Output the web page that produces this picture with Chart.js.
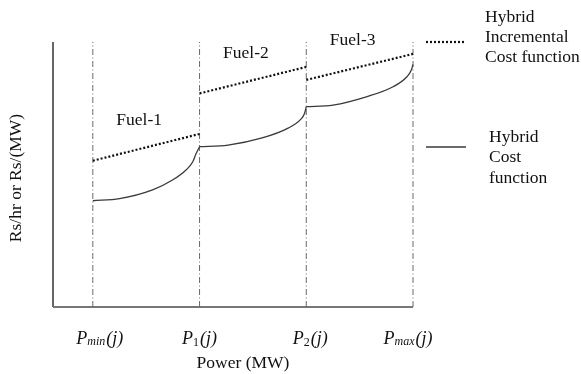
<!DOCTYPE html>
<html>
<head>
<meta charset="utf-8">
<script src="https://cdn.jsdelivr.net/npm/chart.js@4"></script>
<style>
  body { margin: 0; background: #fff; }
  canvas { display: block; }
</style>
</head>
<body>
<canvas id="hybridCostChart" width="581" height="374"></canvas>
<script>
// break points on the power axis: Pmin, P1, P2, Pmax
const powerBreaks = [1, 4, 7, 10];
const tickMain = ['P', 'P', 'P', 'P'];
const tickSub = ['min', '1', '2', 'max'];
const fuelLabels = ['Fuel-1', 'Fuel-2', 'Fuel-3'];

// incremental cost (straight, one per fuel)
const incStart = [55.2, 80.6, 85.7];
const incEnd = [65.3, 90.6, 95.5];

// cost function samples, one list per fuel
const costX1 = [1, 1.75, 2.68, 3.24, 3.62, 3.81, 3.9, 4];
const costY1 = [40.1, 40.9, 44.2, 47.9, 51.7, 54.8, 57.8, 60.5];
const costX2 = [4, 4.80, 5.76, 6.49, 6.85, 6.95, 7];
const costY2 = [60.5, 61.1, 63.8, 67.5, 70.9, 73.0, 75.6];
const costX3 = [7, 7.75, 8.71, 9.44, 9.83, 9.95, 10];
const costY3 = [75.6, 76.2, 79.4, 83.1, 86.9, 89.3, 91.5];

const legendInc = ['Hybrid', 'Incremental', 'Cost function'];
const legendCost = ['Hybrid', 'Cost', 'function'];
const xTitle = 'Power (MW)';
const yTitle = 'Rs/hr or Rs/(MW)';

const FONT = '"Liberation Serif", "Times New Roman", serif';
const DOT = [2, 2];

function pairs(xs, ys) {
    return xs.map((x, i) => ({ x: x, y: ys[i] }));
}

const datasets = [];

// vertical dash-dot lines
powerBreaks.forEach(p => {
    datasets.push({
        data: [{ x: p, y: 0 }, { x: p, y: 100 }],
        borderColor: '#6a6a6a',
        borderWidth: 1,
        borderDash: [6, 2.5, 1, 2.5],
        pointRadius: 0,
        order: 3
    });
});

// incremental cost lines
fuelLabels.forEach((f, i) => {
    datasets.push({
        label: f + ' incremental',
        data: [{ x: powerBreaks[i], y: incStart[i] }, { x: powerBreaks[i + 1], y: incEnd[i] }],
        borderColor: '#111',
        borderWidth: 2.2,
        borderDash: DOT,
        pointRadius: 0,
        order: 1
    });
});

// cost curves
[[costX1, costY1], [costX2, costY2], [costX3, costY3]].forEach((c, i) => {
    datasets.push({
        label: fuelLabels[i] + ' cost',
        data: pairs(c[0], c[1]),
        borderColor: '#3a3a3a',
        borderWidth: 1.3,
        cubicInterpolationMode: 'monotone',
        pointRadius: 0,
        order: 2
    });
});

// small shifts of the tick labels, as in the original figure
const tickNudge = [7, 0, 4, -5];

const decor = {
    id: 'decor',
    beforeDatasetsDraw(chart) {
        const { ctx } = chart;
        const xs = chart.scales.x, ys = chart.scales.y;
        const x0 = xs.getPixelForValue(xs.min);
        const x1 = xs.getPixelForValue(powerBreaks[powerBreaks.length - 1]);
        const yb = ys.getPixelForValue(0), yt = ys.getPixelForValue(100);
        ctx.save();
        // y axis
        ctx.strokeStyle = '#333';
        ctx.lineWidth = 1.5;
        ctx.beginPath();
        ctx.moveTo(x0, yt);
        ctx.lineTo(x0, yb);
        ctx.stroke();
        // x axis
        ctx.strokeStyle = '#777';
        ctx.lineWidth = 2;
        ctx.beginPath();
        ctx.moveTo(x0, yb);
        ctx.lineTo(x1, yb);
        ctx.stroke();
        ctx.restore();
    },
    afterDraw(chart) {
        const { ctx } = chart;
        const xs = chart.scales.x, ys = chart.scales.y;
        ctx.save();
        ctx.fillStyle = '#111';

        // tick labels P_min(j) ...
        powerBreaks.forEach((p, i) => {
            const big = 'italic 18px ' + FONT;
            const isNum = /^\d+$/.test(tickSub[i]);
            const small = (isNum ? '' : 'italic ') + '12px ' + FONT;
            ctx.font = big;
            const wMain = ctx.measureText(tickMain[i]).width;
            const wTail = ctx.measureText('(j)').width;
            ctx.font = small;
            const wSub = ctx.measureText(tickSub[i]).width;
            let x = xs.getPixelForValue(p) + tickNudge[i] - (wMain + wSub + wTail + 1) / 2;
            const base = 344;
            ctx.textAlign = 'left';
            ctx.textBaseline = 'alphabetic';
            ctx.font = big;
            ctx.fillText(tickMain[i], x, base);
            x += wMain;
            ctx.font = small;
            ctx.fillText(tickSub[i], x, base + (isNum ? 2 : 1));
            x += wSub + 1;
            ctx.font = big;
            ctx.fillText('(j)', x, base);
        });

        // axis titles
        ctx.font = '17.5px ' + FONT;
        ctx.textAlign = 'center';
        ctx.textBaseline = 'middle';
        ctx.fillText(xTitle, 243, 363);
        ctx.save();
        ctx.translate(16, 178);
        ctx.rotate(-Math.PI / 2);
        ctx.fillText(yTitle, 0, 0);
        ctx.restore();

        // fuel labels above each incremental segment
        fuelLabels.forEach((f, i) => {
            const xm = (xs.getPixelForValue(powerBreaks[i]) + xs.getPixelForValue(powerBreaks[i + 1])) / 2 - 7;
            const ym = ys.getPixelForValue((incStart[i] + incEnd[i]) / 2) - 27;
            ctx.fillText(f, xm, ym);
        });

        // legend
        ctx.textAlign = 'left';
        ctx.strokeStyle = '#111';
        ctx.lineWidth = 2.2;
        ctx.setLineDash(DOT);
        ctx.beginPath();
        ctx.moveTo(426, 42);
        ctx.lineTo(464, 42);
        ctx.stroke();
        ctx.setLineDash([]);
        ctx.strokeStyle = '#3a3a3a';
        ctx.lineWidth = 1.3;
        ctx.beginPath();
        ctx.moveTo(426, 147);
        ctx.lineTo(466, 147);
        ctx.stroke();
        legendInc.forEach((t, i) => ctx.fillText(t, 485, 17 + i * 20));
        legendCost.forEach((t, i) => ctx.fillText(t, 489, 137 + i * 20.5));

        ctx.restore();
    }
};

new Chart(document.getElementById('hybridCostChart'), {
    type: 'line',
    data: { datasets: datasets },
    options: {
        responsive: false,
        animation: false,
        devicePixelRatio: 1,
        layout: { padding: { left: 53, right: 168, top: 42, bottom: 67 } },
        scales: {
            x: { type: 'linear', min: -0.12, max: 10, display: false },
            y: { type: 'linear', min: 0, max: 100, display: false }
        },
        elements: { line: { fill: false } },
        datasets: { line: { clip: false } },
        plugins: {
            legend: { display: false },
            tooltip: { enabled: false }
        }
    },
    plugins: [decor]
});
</script>
</body>
</html>
